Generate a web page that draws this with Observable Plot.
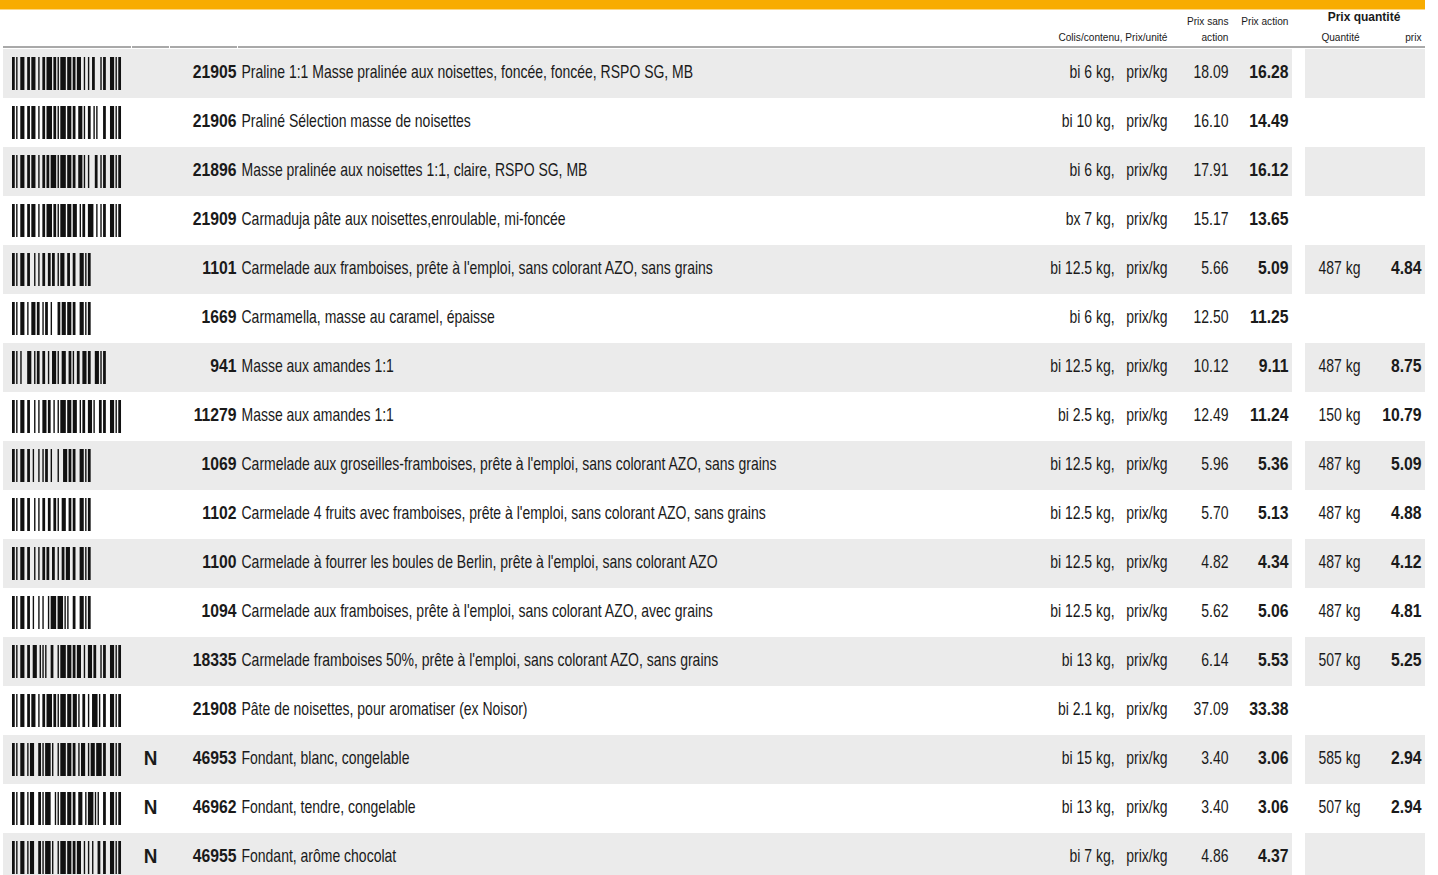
<!DOCTYPE html>
<html>
<head>
<meta charset="utf-8">
<script src="https://cdn.jsdelivr.net/npm/d3@7"></script>
<script src="https://cdn.jsdelivr.net/npm/@observablehq/plot@0.6"></script>
<style>
  html, body { margin: 0; padding: 0; background: #fff; }
  #chart svg { display: block; }
</style>
</head>
<body>
<div id="chart"></div>
<script>
// ---------- data ----------
const articles = ["21905","21906","21896","21909","1101","1669","941","11279","1069","1102","1100","1094","18335","21908","46953","46962","46955"];
const newFlags = ["","","","","","","","","","","","","","","N","N","N"];
const descriptions = [
  "Praline 1:1 Masse pralinée aux noisettes, foncée, foncée, RSPO SG, MB",
  "Praliné Sélection masse de noisettes",
  "Masse pralinée aux noisettes 1:1, claire, RSPO SG, MB",
  "Carmaduja pâte aux noisettes,enroulable, mi-foncée",
  "Carmelade aux framboises, prête à l'emploi, sans colorant AZO, sans grains",
  "Carmamella, masse au caramel, épaisse",
  "Masse aux amandes 1:1",
  "Masse aux amandes 1:1",
  "Carmelade aux groseilles-framboises, prête à l'emploi, sans colorant AZO, sans grains",
  "Carmelade 4 fruits avec framboises, prête à l'emploi, sans colorant AZO, sans grains",
  "Carmelade à fourrer les boules de Berlin, prête à l'emploi, sans colorant AZO",
  "Carmelade aux framboises, prête à l'emploi, sans colorant AZO, avec grains",
  "Carmelade framboises 50%, prête à l'emploi, sans colorant AZO, sans grains",
  "Pâte de noisettes, pour aromatiser (ex Noisor)",
  "Fondant, blanc, congelable",
  "Fondant, tendre, congelable",
  "Fondant, arôme chocolat"
];
const packs = ["bi 6 kg","bi 10 kg","bi 6 kg","bx 7 kg","bi 12.5 kg","bi 6 kg","bi 12.5 kg","bi 2.5 kg","bi 12.5 kg","bi 12.5 kg","bi 12.5 kg","bi 12.5 kg","bi 13 kg","bi 2.1 kg","bi 15 kg","bi 13 kg","bi 7 kg"];
const unitLabel = "prix/kg";
const priceRegular = [18.09,16.10,17.91,15.17,5.66,12.50,10.12,12.49,5.96,5.70,4.82,5.62,6.14,37.09,3.40,3.40,4.86];
const priceAction  = [16.28,14.49,16.12,13.65,5.09,11.25,9.11,11.24,5.36,5.13,4.34,5.06,5.53,33.38,3.06,3.06,4.37];
const qtyKg    = [null,null,null,null,487,null,487,150,487,487,487,487,507,null,585,507,null];
const qtyPrice = [null,null,null,null,4.84,null,8.75,10.79,5.09,4.88,4.12,4.81,5.25,null,2.94,2.94,null];

const headerLabels = {
  colis: "Colis/contenu, Prix/unité",
  sans1: "Prix sans", sans2: "action",
  action: "Prix action",
  qtyTitle: "Prix quantité",
  qty: "Quantité", qtyPrix: "prix"
};

// Code 128 symbol patterns (bar/space widths), values 0..106
const code128 = ["212222","222122","222221","121223","121322","131222","122213","122312","132212","221213",
"221312","231212","112232","122132","122231","113222","123122","123221","223211","221132",
"221231","213212","223112","312131","311222","321122","321221","312212","322112","322211",
"212123","212321","232121","111323","131123","131321","112313","132113","132311","211313",
"231113","231311","112133","112331","132131","113123","113321","133121","313121","211331",
"231131","213113","213311","213131","311123","311321","331121","312113","312311","332111",
"314111","221411","431111","111224","111422","121124","121421","141122","141221","112214",
"112412","122114","122411","142112","142211","241211","221114","413111","241112","134111",
"111242","121142","121241","114212","124112","124211","411212","421112","421211","212141",
"214121","412121","111143","111341","131141","114113","114311","411113","411311","113141",
"114131","311141","411131","211412","211214","211232","2331112"];

// ---------- layout ----------
const W = 1438, H = 875;
const pitch = 49.125;
const yStart = 47.5 - pitch;
const FONT = "'Liberation Sans', Arial, sans-serif";
const fs = 17.5, fsHead = 11.5, fsHeadBold = 12, fsFlag = 21;
// horizontal condensation per text style (Myriad Condensed look)
const narrowBy = (size, bold) =>
  size === fs ? (bold ? 0.90 : 0.80) :
  size === fsFlag ? 0.9 :
  bold ? 1.0 : 0.88;
const rowDy = -1.5;
const ink = "#1a1a1a";
const shade = "#ebebeb";
const orange = "#f8ac00";

// ---------- build rows ----------
const rows = articles.map((a, i) => ({
  article: a, i, flag: newFlags[i], desc: descriptions[i],
  pack: packs[i] + ",\u00a0\u00a0 " + unitLabel,
  reg: priceRegular[i].toFixed(2), act: priceAction[i].toFixed(2),
  qty: qtyKg[i] == null ? null : qtyKg[i] + " kg",
  qprice: qtyPrice[i] == null ? null : qtyPrice[i].toFixed(2)
}));

function code128Values(s) {
  let vals;
  if (s.length % 2 === 0) {
    vals = [105];
    for (let k = 0; k < s.length; k += 2) vals.push(+s.slice(k, k + 2));
  } else if (s.length >= 5) {
    vals = [105];
    for (let k = 0; k < s.length - 1; k += 2) vals.push(+s.slice(k, k + 2));
    vals.push(100, 16 + +s[s.length - 1]);
  } else {
    vals = [104];
    for (const c of s) vals.push(16 + +c);
  }
  let sum = vals[0];
  for (let k = 1; k < vals.length; k++) sum += vals[k] * k;
  vals.push(sum % 103, 106);
  return vals;
}
const barLeft = 12, moduleW = 1.38;
const barcodeBars = [];
for (const r of rows) {
  let m = 0;
  for (const v of code128Values(r.article)) {
    const pat = code128[v];
    for (let k = 0; k < pat.length; k++) {
      const w = +pat[k];
      if (k % 2 === 0) barcodeBars.push({article: r.article, x1: barLeft + m * moduleW, x2: barLeft + (m + w) * moduleW});
      m += w;
    }
  }
}

const shaded = rows.filter(r => r.i % 2 === 0);
const sepSegments = [[3, 131], [132, 169], [170, 237], [238, 1425]];

const hdr = (text, x, dy, opts = {}) =>
  Plot.text([text], {x: () => x, y: () => "header", dy, text: d => d, fontSize: fsHead, fill: ink, ...opts});
const col = (data, x, text, opts = {}) =>
  Plot.text(data, {x: () => x, y: "article", text, fontSize: fs, fill: ink, dy: rowDy, ...opts});

const chart = Plot.plot({
  width: W, height: H, margin: 0,
  style: {fontFamily: FONT, background: "#fff", color: ink},
  x: {domain: [0, W], range: [0, W], axis: null},
  y: {type: "band", domain: ["header", ...articles], range: [yStart, yStart + pitch * (articles.length + 1)], padding: 0, axis: null},
  marks: [
    // orange top band
    Plot.barX([0], {x1: () => 0, x2: () => 1425, y: () => "header", insetTop: 0, insetBottom: pitch - 9.6, fill: orange}),
    // header separator
    Plot.ruleY(sepSegments, {y: () => "header", x1: d => d[0], x2: d => d[1], dy: 45 - (yStart + pitch / 2), stroke: "#8c8c8c", strokeWidth: 1.4}),
    // header labels
    hdr(headerLabels.colis, 1167, 12.5, {textAnchor: "end"}),
    hdr(headerLabels.sans1, 1228, -4, {textAnchor: "end"}),
    hdr(headerLabels.sans2, 1228, 12.5, {textAnchor: "end"}),
    hdr(headerLabels.action, 1288, -4, {textAnchor: "end"}),
    hdr(headerLabels.qtyTitle, 1363.5, -8, {textAnchor: "middle", fontWeight: "bold", fontSize: fsHeadBold}),
    hdr(headerLabels.qty, 1340, 12.5, {textAnchor: "middle"}),
    hdr(headerLabels.qtyPrix, 1421, 12.5, {textAnchor: "end"}),
    // zebra bands
    Plot.barX(shaded, {x1: () => 3, x2: () => 1292, y: "article", fill: shade}),
    Plot.barX(shaded, {x1: () => 1305, x2: () => 1425, y: "article", fill: shade}),
    // barcodes
    Plot.barX(barcodeBars, {x1: "x1", x2: "x2", y: "article", insetTop: 8, insetBottom: 8, fill: "#111"}),
    // text columns
    col(rows.filter(r => r.flag), 150, "flag", {fontWeight: "bold", fontSize: fsFlag, textAnchor: "middle"}),
    col(rows, 236, "article", {fontWeight: "bold", textAnchor: "end"}),
    col(rows, 241, "desc", {textAnchor: "start"}),
    col(rows, 1167, "pack", {textAnchor: "end"}),
    col(rows, 1228, "reg", {textAnchor: "end"}),
    col(rows, 1288, "act", {fontWeight: "bold", textAnchor: "end"}),
    col(rows.filter(r => r.qty), 1360, "qty", {textAnchor: "end"}),
    col(rows.filter(r => r.qprice), 1421, "qprice", {fontWeight: "bold", textAnchor: "end"})
  ]
});
// condense glyphs horizontally around each text's anchor point
d3.select(chart).selectAll("text").each(function () {
  const g = this.parentNode;
  const size = +(g.getAttribute("font-size") || this.getAttribute("font-size") || fs);
  const bold = (g.getAttribute("font-weight") || this.getAttribute("font-weight") || "") === "bold";
  const t = this.getAttribute("transform") || "";
  this.setAttribute("transform", (t + ` scale(${narrowBy(size, bold)},1)`).trim());
});
document.getElementById("chart").append(chart);
</script>
</body>
</html>
